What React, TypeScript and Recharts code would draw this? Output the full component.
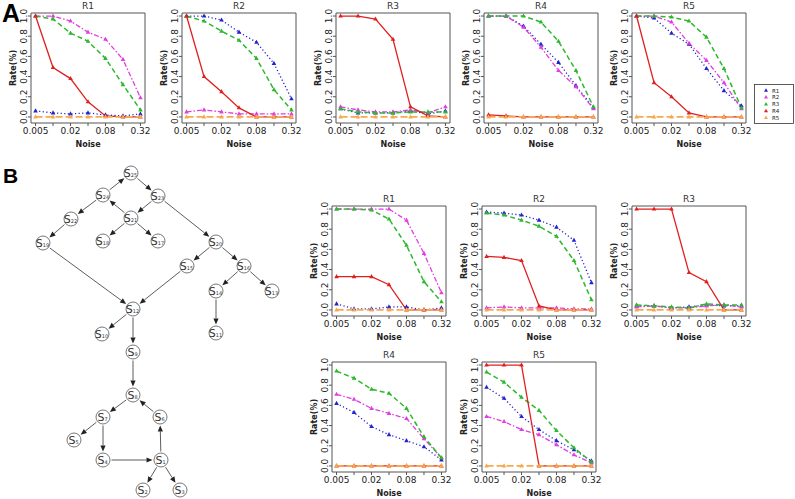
import React from "react";
import {
  LineChart,
  Line,
  XAxis,
  YAxis,
  ReferenceArea,
  ScatterChart,
  Scatter,
  ReferenceLine,
} from "recharts";

// x categories (log-spaced noise levels), only every other one gets a label
const NOISE = ["0.005", "0.01", "0.02", "0.04", "0.08", "0.16", "0.32"];
const X_TICKS = [0, 1, 2, 3, 4, 5, 6];
const Y_TICKS = [0, 0.2, 0.4, 0.6, 0.8, 1.0];
const ZERO = [0, 0, 0, 0, 0, 0, 0];

// Panel A
const A_R1 = {
  R1: [0.06, 0.04, 0.03, 0.04, 0.02, 0.01, 0.03],
  R2: [1.0, 1.0, 0.95, 0.84, 0.77, 0.57, 0.19],
  R3: [1.0, 0.97, 0.83, 0.75, 0.58, 0.32, 0.07],
  R4: [1.0, 0.49, 0.38, 0.15, 0.01, 0.0, 0.0],
  R5: ZERO,
};
const A_R2 = {
  R1: [1.0, 1.0, 0.96, 0.84, 0.74, 0.53, 0.18],
  R2: [0.05, 0.07, 0.05, 0.03, 0.03, 0.03, 0.03],
  R3: [1.0, 0.95, 0.85, 0.76, 0.58, 0.27, 0.07],
  R4: [1.0, 0.4, 0.25, 0.09, 0.0, 0.0, 0.0],
  R5: ZERO,
};
const A_R3 = {
  R1: [0.08, 0.04, 0.04, 0.04, 0.06, 0.03, 0.06],
  R2: [0.1, 0.07, 0.05, 0.05, 0.07, 0.04, 0.1],
  R3: [0.08, 0.05, 0.04, 0.04, 0.05, 0.05, 0.05],
  R4: [1.0, 1.0, 0.97, 0.77, 0.1, 0.01, 0.0],
  R5: ZERO,
};
const A_R4 = {
  R1: [1.0, 1.0, 0.9, 0.72, 0.54, 0.31, 0.09],
  R2: [1.0, 1.0, 0.89, 0.69, 0.46, 0.3, 0.08],
  R3: [1.0, 1.0, 1.0, 0.94, 0.75, 0.46, 0.1],
  R4: [0.02, 0.01, 0.0, 0.0, 0.0, 0.0, 0.0],
  R5: ZERO,
};
const A_R5 = {
  R1: [1.0, 0.98, 0.83, 0.72, 0.48, 0.26, 0.11],
  R2: [1.0, 1.0, 0.94, 0.73, 0.56, 0.34, 0.08],
  R3: [1.0, 1.0, 0.99, 0.95, 0.79, 0.48, 0.09],
  R4: [1.0, 0.34, 0.2, 0.04, 0.0, 0.0, 0.0],
  R5: ZERO,
};

// Panel B
const B_R1 = {
  R1: [0.06, 0.01, 0.01, 0.03, 0.03, 0.0, 0.02],
  R2: [1.0, 1.0, 1.0, 1.0, 0.89, 0.56, 0.17],
  R3: [1.0, 1.0, 0.99, 0.9, 0.64, 0.28, 0.08],
  R4: [0.33, 0.33, 0.33, 0.25, 0.0, 0.0, 0.0],
  R5: ZERO,
};
const B_R2 = {
  R1: [0.97, 0.96, 0.94, 0.89, 0.82, 0.69, 0.27],
  R2: [0.02, 0.03, 0.02, 0.02, 0.02, 0.01, 0.01],
  R3: [0.96, 0.94, 0.89, 0.83, 0.73, 0.49, 0.1],
  R4: [0.53, 0.52, 0.49, 0.04, 0.0, 0.0, 0.0],
  R5: ZERO,
};
const B_R3 = {
  R1: [0.04, 0.04, 0.02, 0.03, 0.05, 0.04, 0.04],
  R2: [0.03, 0.04, 0.02, 0.02, 0.04, 0.05, 0.03],
  R3: [0.05, 0.04, 0.03, 0.02, 0.06, 0.05, 0.05],
  R4: [1.0, 1.0, 1.0, 0.37, 0.28, 0.0, 0.0],
  R5: ZERO,
};
const B_R4 = {
  R1: [0.62, 0.53, 0.39, 0.31, 0.25, 0.19, 0.06],
  R2: [0.71, 0.66, 0.57, 0.52, 0.47, 0.27, 0.08],
  R3: [0.94, 0.87, 0.76, 0.72, 0.57, 0.29, 0.08],
  R4: ZERO,
  R5: ZERO,
};
const B_R5 = {
  R1: [0.78, 0.67, 0.49, 0.36, 0.25, 0.16, 0.05],
  R2: [0.49, 0.44, 0.36, 0.31, 0.21, 0.11, 0.03],
  R3: [0.93, 0.83, 0.68, 0.55, 0.35, 0.18, 0.04],
  R4: [1.0, 1.0, 1.0, 0.0, 0.0, 0.0, 0.0],
  R5: ZERO,
};

const SERIES = [
  { key: "R1", color: "#2323cc", dash: "1.2 2.4", width: 1.3 },
  { key: "R2", color: "#e03ee0", dash: "5 2 1.5 2", width: 1.3 },
  { key: "R3", color: "#2eb82e", dash: "5 3", width: 1.5 },
  { key: "R4", color: "#e0201e", dash: undefined, width: 1.3 },
  { key: "R5", color: "#f6a94f", dash: "7 3", width: 1.8 },
];

// network diagram (panel B, left)
const NODES = [
  { id: 25, x: 131, y: 173 },
  { id: 24, x: 103, y: 195 },
  { id: 23, x: 158, y: 196 },
  { id: 22, x: 71, y: 219 },
  { id: 21, x: 131, y: 218 },
  { id: 19, x: 43, y: 243 },
  { id: 18, x: 103, y: 241 },
  { id: 17, x: 158, y: 241 },
  { id: 20, x: 216, y: 242 },
  { id: 15, x: 187, y: 266 },
  { id: 16, x: 244, y: 266 },
  { id: 14, x: 216, y: 291 },
  { id: 13, x: 272, y: 291 },
  { id: 12, x: 133, y: 309 },
  { id: 10, x: 102, y: 334 },
  { id: 11, x: 216, y: 333 },
  { id: 9, x: 133, y: 352 },
  { id: 8, x: 133, y: 395 },
  { id: 7, x: 103, y: 417 },
  { id: 6, x: 160, y: 417 },
  { id: 5, x: 74, y: 440 },
  { id: 4, x: 103, y: 460 },
  { id: 1, x: 161, y: 460 },
  { id: 2, x: 143, y: 490 },
  { id: 3, x: 180, y: 490 },
];
const EDGES = [
  [24, 25], [25, 23], [24, 22], [22, 19], [21, 24], [23, 21], [21, 18],
  [21, 17], [23, 20], [20, 15], [20, 16], [16, 14], [16, 13], [14, 11],
  [19, 12], [15, 12], [12, 10], [12, 9], [9, 8], [8, 7], [7, 5], [7, 4],
  [4, 1], [1, 6], [6, 8], [1, 2], [1, 3],
];

const FONT = "DejaVu Sans";
const BOX_W = 114;
const BOX_H = 110;
const LEFT = 36;
const RIGHT = 14;
const TOP = 14;
const BOTTOM = 26;
const X_DOMAIN = [-0.26, 6.26];
const Y_DOMAIN = [-0.06, 1.03];
const FRAME = "#555";

type Panel = Record<string, number[]>;

const toRows = (p: Panel) =>
  NOISE.map((_, i) => ({ i, R1: p.R1[i], R2: p.R2[i], R3: p.R3[i], R4: p.R4[i], R5: p.R5[i] }));

const triDot = (color: string) => (p: any) => {
  const { cx, cy, index } = p;
  if (cx == null || cy == null) return <g key={index} />;
  return (
    <polygon
      key={index}
      points={`${cx},${cy - 2.6} ${cx - 2.3},${cy + 1.5} ${cx + 2.3},${cy + 1.5}`}
      fill={color}
    />
  );
};

const YTick = (p: any) => {
  const { x, y, payload } = p;
  return (
    <text
      x={x - 1}
      y={y}
      transform={`rotate(-90 ${x - 1} ${y})`}
      textAnchor="middle"
      fontSize={9}
      fontFamily={FONT}
      fill="#222"
    >
      {Number(payload.value).toFixed(1)}
    </text>
  );
};

function SmallChart({ title, panel, left, top }: { title: string; panel: Panel; left: number; top: number }) {
  const w = LEFT + BOX_W + RIGHT;
  const h = TOP + BOX_H + BOTTOM;
  return (
    <div style={{ position: "absolute", left: left - LEFT, top: top - TOP, width: w, height: h }}>
      <div
        style={{
          position: "absolute",
          left: LEFT,
          width: BOX_W,
          top: 0,
          height: TOP,
          lineHeight: `${TOP}px`,
          textAlign: "center",
          fontFamily: FONT,
          fontSize: 9,
          color: "#333",
        }}
      >
        {title}
      </div>
      <LineChart width={w} height={h} data={toRows(panel)} margin={{ top: TOP, right: RIGHT, bottom: 0, left: 0 }}>
        <XAxis
          dataKey="i"
          type="number"
          domain={X_DOMAIN}
          ticks={X_TICKS}
          interval={0}
          allowDataOverflow
          tickFormatter={(v: number) => (v % 2 === 0 ? NOISE[v] : "")}
          tickSize={3}
          tickMargin={2}
          axisLine={false}
          tickLine={{ stroke: FRAME }}
          height={BOTTOM}
          tick={{ fontSize: 9, fontFamily: FONT, fill: "#222" }}
          label={{
            value: "Noise",
            position: "insideBottom",
            offset: 2,
            style: { fontSize: 8, fontWeight: "bold", fontFamily: FONT, fill: "#222" },
          }}
        />
        <YAxis
          type="number"
          domain={Y_DOMAIN}
          ticks={Y_TICKS}
          interval={0}
          allowDataOverflow
          width={LEFT}
          tickSize={3}
          tickMargin={0}
          axisLine={false}
          tickLine={{ stroke: FRAME }}
          tick={<YTick />}
          label={{
            value: "Rate(%)",
            angle: -90,
            position: "center",
            style: { fontSize: 8, fontWeight: "bold", fontFamily: FONT, fill: "#222" },
          }}
        />
        <ReferenceArea
          x1={X_DOMAIN[0]}
          x2={X_DOMAIN[1]}
          y1={Y_DOMAIN[0]}
          y2={Y_DOMAIN[1]}
          fill="none"
          fillOpacity={0}
          stroke={FRAME}
          strokeWidth={1}
        />
        {SERIES.map((s) => (
          <Line
            key={s.key}
            dataKey={s.key}
            type="linear"
            stroke={s.color}
            strokeWidth={s.width}
            strokeDasharray={s.dash}
            dot={triDot(s.color)}
            activeDot={false}
            isAnimationActive={false}
          />
        ))}
      </LineChart>
    </div>
  );
}

const NODE_R = 7;

const Arrow = (p: any) => {
  const { x1, y1, x2, y2 } = p;
  const dx = x2 - x1;
  const dy = y2 - y1;
  const len = Math.hypot(dx, dy) || 1;
  const ux = dx / len;
  const uy = dy / len;
  const sx = x1 + ux * (NODE_R + 1.5);
  const sy = y1 + uy * (NODE_R + 1.5);
  const ex = x2 - ux * (NODE_R + 1.5);
  const ey = y2 - uy * (NODE_R + 1.5);
  const bx = ex - ux * 6;
  const by = ey - uy * 6;
  const hw = 2.6;
  return (
    <g>
      <line x1={sx} y1={sy} x2={bx} y2={by} stroke="#333" strokeWidth={0.8} />
      <polygon points={`${ex},${ey} ${bx - uy * hw},${by + ux * hw} ${bx + uy * hw},${by - ux * hw}`} fill="#222" />
    </g>
  );
};

const NodeShape = (p: any) => {
  const { cx, cy, payload } = p;
  return (
    <g>
      <circle cx={cx} cy={cy} r={NODE_R} fill="#fff" stroke="#555" strokeWidth={0.8} />
      <text x={cx - 0.5} y={cy + 3.8} textAnchor="middle" fontFamily={FONT} fill="#333">
        <tspan fontSize={11}>S</tspan>
        <tspan fontSize={5}>{payload.id}</tspan>
      </text>
    </g>
  );
};

function Network() {
  const pos = (id: number) => NODES.find((n) => n.id === id)!;
  return (
    <div style={{ position: "absolute", left: 0, top: 160 }}>
      <ScatterChart width={300} height={340} margin={{ top: 0, right: 0, bottom: 0, left: 0 }}>
        <XAxis type="number" dataKey="x" domain={[0, 300]} hide />
        <YAxis type="number" dataKey="y" domain={[160, 500]} reversed hide />
        {EDGES.map(([a, b]) => (
          <ReferenceLine
            key={`${a}-${b}`}
            segment={[
              { x: pos(a).x, y: pos(a).y },
              { x: pos(b).x, y: pos(b).y },
            ]}
            stroke="#333"
            shape={Arrow}
          />
        ))}
        <Scatter data={NODES} shape={NodeShape} isAnimationActive={false} />
      </ScatterChart>
    </div>
  );
}

function Legend5() {
  return (
    <svg style={{ position: "absolute", left: 754, top: 84 }} width={41} height={41}>
      <rect x={0.5} y={0.5} width={39} height={39} fill="#fff" stroke="#333" strokeWidth={0.8} />
      {SERIES.map((s, i) => {
        const cy = 6.5 + i * 6.8;
        return (
          <g key={s.key}>
            <polygon points={`12,${cy - 2.2} 10,${cy + 1.3} 14,${cy + 1.3}`} fill={s.color} />
            <text x={18} y={cy + 2} fontSize={5.5} fontFamily={FONT} fill="#222">
              {s.key}
            </text>
          </g>
        );
      })}
    </svg>
  );
}

export default function App() {
  return (
    <div style={{ position: "absolute", left: 0, top: 0, width: 795, height: 499, background: "#fff", overflow: "hidden" }}>
      <SmallChart title="R1" panel={A_R1} left={31} top={13} />
      <SmallChart title="R2" panel={A_R2} left={182} top={13} />
      <SmallChart title="R3" panel={A_R3} left={336} top={13} />
      <SmallChart title="R4" panel={A_R4} left={484} top={13} />
      <SmallChart title="R5" panel={A_R5} left={632} top={13} />
      <Legend5 />
      <Network />
      <SmallChart title="R1" panel={B_R1} left={332} top={206} />
      <SmallChart title="R2" panel={B_R2} left={482} top={206} />
      <SmallChart title="R3" panel={B_R3} left={632} top={206} />
      <SmallChart title="R4" panel={B_R4} left={332} top={362} />
      <SmallChart title="R5" panel={B_R5} left={482} top={362} />
      <svg style={{ position: "absolute", left: 0, top: 0, pointerEvents: "none" }} width={795} height={499}>
        <text x={2} y={22} fontSize={25} fontWeight="bold" fontFamily="Liberation Sans">
          A
        </text>
        <text x={3} y={183} fontSize={21} fontWeight="bold" fontFamily="Liberation Sans">
          B
        </text>
      </svg>
    </div>
  );
}
